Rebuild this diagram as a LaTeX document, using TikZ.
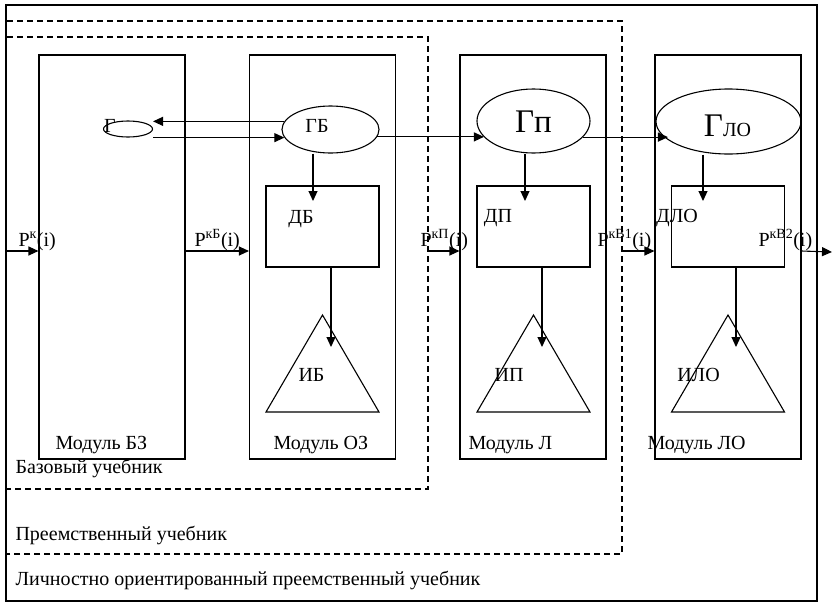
\documentclass[tikz,border=0pt]{standalone}
\usepackage{fontspec}
\setmainfont{Liberation Serif}
\usetikzlibrary{arrows.meta}
\usetikzlibrary{shapes.geometric}

\begin{document}
\begin{tikzpicture}[x=1pt, y=-1pt, line width=1.1pt,
    >={Triangle[length=10pt,width=9pt]},
    lbl/.style={inner sep=0pt, font=\fontsize{20}{22}\selectfont},
    modul/.style={draw, minimum width=146pt, minimum height=404pt},
    oval/.style={draw, ellipse, inner sep=0pt},
    dbox/.style={draw, minimum width=113pt, minimum height=81pt},
    bookframe/.style={dash pattern=on 6pt off 4pt, line width=1.2pt}]
\useasboundingbox (0,0) rectangle (832,603);

% textbooks
\draw[line width=1.3pt] (6,5) rectangle (817,601);
\draw[bookframe] (7,21) -| (622,554) -- (7,554);
\draw[bookframe] (7,37) -| (428,489) -- (7,489);
\node[lbl, anchor=base west] (base) at (15,473) {Базовый учебник};
\node[lbl, anchor=base west] (succ) at (15,540) {Преемственный учебник};
\node[lbl, anchor=base west] (pers) at (15,585) {Личностно ориентированный преемственный учебник};

% modules
\foreach \x/\n/\lx/\t in {112/bz/55/БЗ, 322.5/oz/273/ОЗ, 533/l/468/Л, 728/lo/647/ЛО} {
 \node[modul] (\n) at (\x,257) {};
 \node[lbl, anchor=base west] (\n-name) at (\lx,449) {Модуль \t};
}

% goals
\node[oval, minimum width=49pt, minimum height=16pt] (g) at (128,129) {};
\node[oval, minimum width=97pt, minimum height=47pt] (gb) at (330.5,129.5) {};
\node[oval, minimum width=113pt, minimum height=64pt] (gp) at (533.5,121) {};
\node[oval, minimum width=145pt, minimum height=65pt] (glo) at (728.5,121.5) {};
\node[lbl, anchor=base] (g-t) at (110,132) {Г};
\node[lbl, anchor=base] (gb-t) at (317,132) {ГБ};
\node[lbl, anchor=base, font=\fontsize{33}{36}\selectfont] (gp-t) at (533.5,132) {Гп};
\node[lbl, anchor=base] (glo-t) at (727.5,136) {{\fontsize{33}{36}\selectfont Г}ЛО};
\draw[->] (gb.170) -- (gb.170 -| g.east);
\draw[->] (g.east |- gb.190) -- (gb.190);
\draw[->] (gb.-9) -- (gb.-9 -| gp.198);
\draw[->] (gp.-18) -- (gp.-18 -| glo.197);

% content and results
\foreach \x/\n/\e/\a/\b in {322.5/db/gb/313/331, 533.5/dp/gp/525/542, 728/dlo/glo/703/736} {
 \node[dbox] (\n) at (\x,226.5) {};
 \draw (\x-56.5,412) -- (\x,315) -- (\x+56.5,412) -- cycle;
 \coordinate (\n-in) at (\a,201);
 \coordinate (\n-out) at (\b,347);
 \draw[->] (\e.south -| \n-in) -- (\n-in);
 \draw[->] (\n.south -| \n-out) -- (\n-out);
}
\node[lbl, anchor=base] (db-t) at (301,223) {ДБ};
\node[lbl, anchor=base] (dp-t) at (498,222) {ДП};
\node[lbl, anchor=base] (dlo-t) at (677,222) {ДЛО};
\node[lbl, anchor=base] (ib-t) at (311.5,381) {ИБ};
\node[lbl, anchor=base] (ip-t) at (509,381) {ИП};
\node[lbl, anchor=base] (ilo-t) at (698.5,381) {ИЛО};

% flows between modules
\coordinate (in) at (6,251);
\coordinate (p-l) at (428,251);
\coordinate (p-lo) at (622,251);
\coordinate (out) at (832,252);
\draw[->] (in) -- (in -| bz.west);
\draw[->] (bz.east |- in) -- (oz.west |- in);
\draw[->] (p-l) -- (p-l -| l.west);
\draw[->] (p-lo) -- (p-lo -| lo.west);
\draw[->] (lo.east |- in) -- (out);
\node[lbl, anchor=base west] (pk) at (18,246) {Р\textsuperscript{к}(i)};
\node[lbl, anchor=base west] (pkb) at (194,246) {Р\textsuperscript{кБ}(i)};
\node[lbl, anchor=base west] (pkp) at (420,246) {Р\textsuperscript{кП}(i)};
\node[lbl, anchor=base west] (pkv1) at (597,246) {Р\textsuperscript{кВ1}(i)};
\node[lbl, anchor=base west] (pkv2) at (758,246) {Р\textsuperscript{кВ2}(i)};
\end{tikzpicture}
\end{document}
